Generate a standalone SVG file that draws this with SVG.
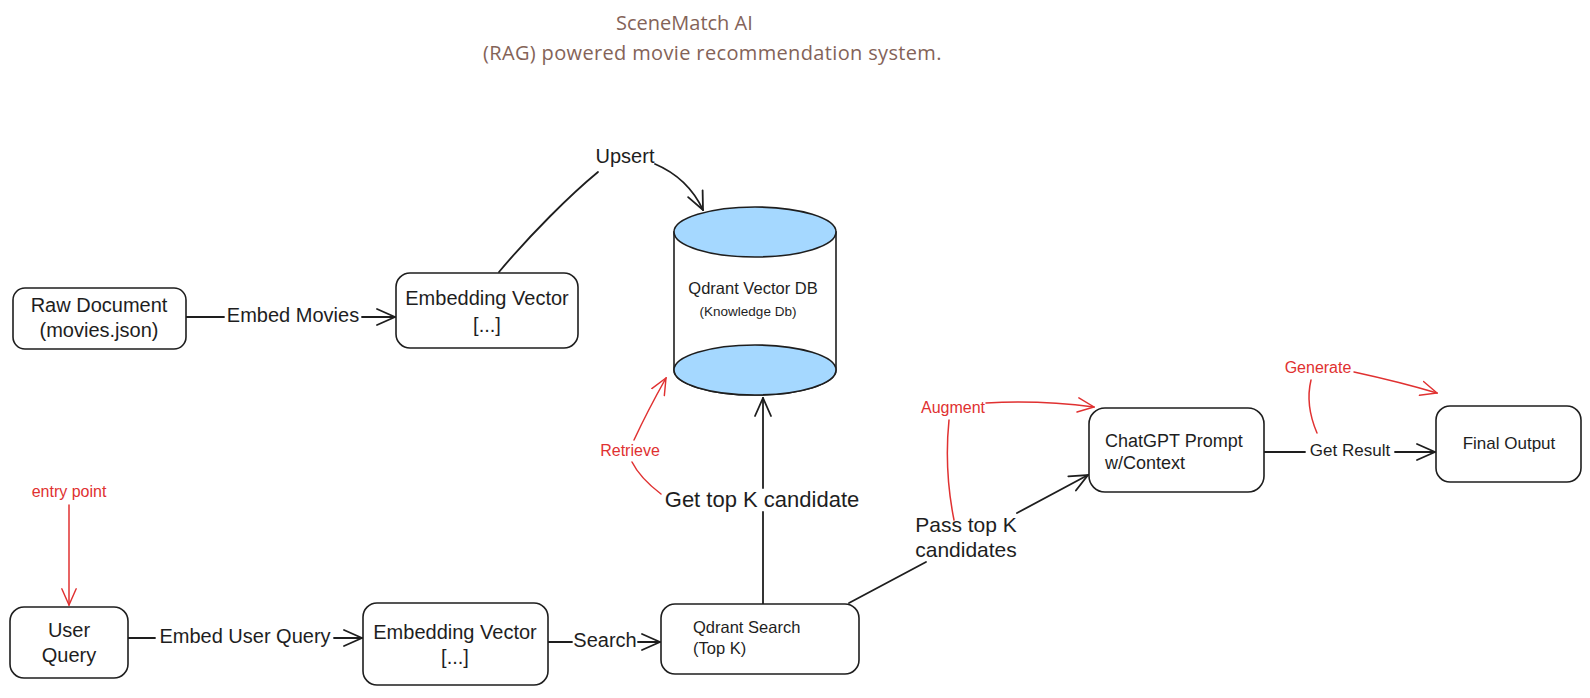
<svg xmlns="http://www.w3.org/2000/svg" width="1590" height="698" viewBox="0 0 1590 698">
<style>
.box{fill:#fff;stroke:#1e1e1e;stroke-width:1.6}
.t{font-family:"Liberation Sans",Arial,sans-serif;fill:#1e1e1e;text-anchor:middle;dominant-baseline:central}
.ts{font-family:"Liberation Sans",Arial,sans-serif;fill:#1e1e1e;dominant-baseline:central}
.red{font-family:"Liberation Sans",Arial,sans-serif;fill:#e03131;text-anchor:middle;dominant-baseline:central;font-size:16px}
.title{font-family:"Open Sans","Noto Sans",sans-serif;fill:#846358;font-size:20px;dominant-baseline:central}
.c{fill:none;stroke:#1e1e1e;stroke-width:1.8;stroke-linecap:round}
.cr{fill:none;stroke:#e03131;stroke-width:1.5;stroke-linecap:round}
.db{fill:#a5d8ff;stroke:#1e1e1e;stroke-width:1.6}
</style>
<defs>
<marker id="ah" viewBox="0 0 20 20" refX="19" refY="10" markerWidth="20" markerHeight="20" markerUnits="userSpaceOnUse" orient="auto"><path d="M1,2 L19,10 L1,18" fill="none" stroke="#1e1e1e" stroke-width="1.8" stroke-linecap="round"/></marker>
<marker id="ahr" viewBox="0 0 20 20" refX="19" refY="10" markerWidth="18" markerHeight="18" markerUnits="userSpaceOnUse" orient="auto"><path d="M1,2 L19,10 L1,18" fill="none" stroke="#e03131" stroke-width="1.6" stroke-linecap="round"/></marker>
</defs>
<rect width="1590" height="698" fill="#fff"/>

<g id="title">
<text class="title" x="616" y="22">SceneMatch AI</text>
<text class="title" x="483" y="52" letter-spacing="0.35">(RAG) powered movie recommendation system.</text>
</g>

<g id="connectors">
<path class="c" d="M186,317 L224,317"/>
<path class="c" d="M362,317 L395,317" marker-end="url(#ah)"/>
<path class="c" d="M499,272 C530,235 570,195 598,172"/>
<path class="c" d="M655,164 Q688,178 703,210" marker-end="url(#ah)"/>
<path class="c" d="M128,638 L155,638"/>
<path class="c" d="M334,638 L362,638" marker-end="url(#ah)"/>
<path class="c" d="M548,642 L572,642"/>
<path class="c" d="M638,642 L660,642" marker-end="url(#ah)"/>
<path class="c" d="M763,604 L763,512"/>
<path class="c" d="M763,488 L763,398" marker-end="url(#ah)"/>
<path class="c" d="M849,603 L926,562"/>
<path class="c" d="M1017,513 L1088,475" marker-end="url(#ah)"/>
<path class="c" d="M1264,452 L1305,452"/>
<path class="c" d="M1395,452 L1435,452" marker-end="url(#ah)"/>
<path class="cr" d="M69,505 L69,605" marker-end="url(#ahr)"/>
<path class="cr" d="M661,494 Q640,478 632,462"/>
<path class="cr" d="M634,440 Q648,410 666,378" marker-end="url(#ahr)"/>
<path class="cr" d="M954,520 Q944,470 949,420"/>
<path class="cr" d="M986,403 Q1040,400 1094,407" marker-end="url(#ahr)"/>
<path class="cr" d="M1317,433 Q1305,405 1311,380"/>
<path class="cr" d="M1354,372 Q1400,382 1437,393" marker-end="url(#ahr)"/>
</g>

<g id="labels">
<text class="t" x="625" y="156" font-size="20">Upsert</text>
<text class="t" x="293" y="315" font-size="20">Embed Movies</text>
<text class="t" x="245" y="636" font-size="20">Embed User Query</text>
<text class="t" x="605" y="640" font-size="20">Search</text>
<text class="t" x="762" y="499" font-size="22">Get top K candidate</text>
<text class="t" x="966" y="524" font-size="21">Pass top K</text>
<text class="t" x="966" y="549" font-size="21">candidates</text>
<text class="t" x="1350" y="450" font-size="17">Get Result</text>
<text class="red" x="69" y="491" font-size="15">entry point</text>
<text class="red" x="630" y="450">Retrieve</text>
<text class="red" x="953" y="407">Augment</text>
<text class="red" x="1318" y="367">Generate</text>
</g>

<g id="raw-document">
<rect class="box" x="13" y="288" width="173" height="61" rx="12"/>
<text class="t" x="99" y="305" font-size="20">Raw Document</text>
<text class="t" x="99" y="330" font-size="20">(movies.json)</text>
</g>

<g id="embedding-vector-1">
<rect class="box" x="396" y="273" width="182" height="75" rx="14"/>
<text class="t" x="487" y="298" font-size="20">Embedding Vector</text>
<text class="t" x="487" y="325" font-size="20">[...]</text>
</g>

<g id="qdrant-db">
<path d="M674,232 L674,370 A81,25 0 0 0 836,370 L836,232 Z" fill="#fff" stroke="#1e1e1e" stroke-width="1.6"/>
<ellipse class="db" cx="755" cy="370" rx="81" ry="25"/>
<ellipse class="db" cx="755" cy="232" rx="81" ry="25"/>
<text class="t" x="753" y="288" font-size="16.5">Qdrant Vector DB</text>
<text class="t" x="748" y="311" font-size="13.5">(Knowledge Db)</text>
</g>

<g id="user-query">
<rect class="box" x="10" y="607" width="118" height="71" rx="14"/>
<text class="t" x="69" y="630" font-size="20">User</text>
<text class="t" x="69" y="655" font-size="20">Query</text>
</g>

<g id="embedding-vector-2">
<rect class="box" x="363" y="603" width="185" height="82" rx="14"/>
<text class="t" x="455" y="632" font-size="20">Embedding Vector</text>
<text class="t" x="455" y="657" font-size="20">[...]</text>
</g>

<g id="qdrant-search">
<rect class="box" x="661" y="604" width="198" height="70" rx="14"/>
<text class="ts" x="693" y="627" font-size="16.5">Qdrant Search</text>
<text class="ts" x="693" y="648" font-size="16.5">(Top K)</text>
</g>

<g id="chatgpt-prompt">
<rect class="box" x="1089" y="408" width="175" height="84" rx="16"/>
<text class="ts" x="1105" y="441" font-size="18">ChatGPT Prompt</text>
<text class="ts" x="1105" y="463" font-size="18">w/Context</text>
</g>

<g id="final-output">
<rect class="box" x="1436" y="406" width="145" height="76" rx="14"/>
<text class="t" x="1509" y="443" font-size="17">Final Output</text>
</g>
</svg>
